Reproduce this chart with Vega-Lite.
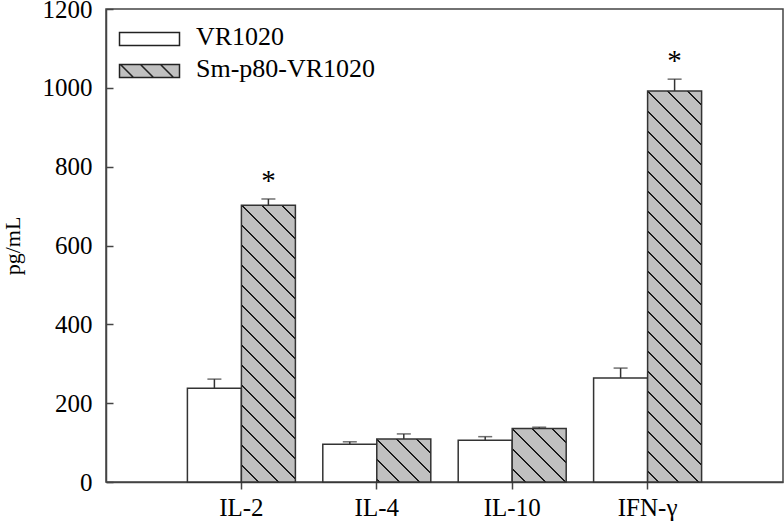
{
 "$schema": "https://vega.github.io/schema/vega-lite/v6.json",
 "width": 677,
 "height": 473,
 "autosize": {"type": "none"},
 "padding": {"left": 106, "top": 9, "right": 1, "bottom": 40},
 "background": "#ffffff",
 "config": {
  "view": {"stroke": "#444", "strokeWidth": 1.5},
  "font": "Liberation Serif",
  "axis": {"labelFont": "Liberation Serif", "titleFont": "Liberation Serif", "labelColor": "#000", "titleColor": "#000", "domainColor": "#444", "domainWidth": 1.5, "tickColor": "#444", "tickWidth": 1.5, "grid": false}
 },
 "data": {"values": [
  {"cytokine": "IL-2", "group": "VR1020", "value": 238, "upper": 261, "star": ""},
  {"cytokine": "IL-2", "group": "Sm-p80-VR1020", "value": 702, "upper": 718, "star": "*"},
  {"cytokine": "IL-4", "group": "VR1020", "value": 96, "upper": 102, "star": ""},
  {"cytokine": "IL-4", "group": "Sm-p80-VR1020", "value": 109, "upper": 122, "star": ""},
  {"cytokine": "IL-10", "group": "VR1020", "value": 106, "upper": 115, "star": ""},
  {"cytokine": "IL-10", "group": "Sm-p80-VR1020", "value": 136, "upper": 139, "star": ""},
  {"cytokine": "IFN-γ", "group": "VR1020", "value": 264, "upper": 289, "star": ""},
  {"cytokine": "IFN-γ", "group": "Sm-p80-VR1020", "value": 992, "upper": 1022, "star": "*"}
 ]},
 "encoding": {
  "x": {"field": "cytokine", "type": "nominal", "sort": ["IL-2", "IL-4", "IL-10", "IFN-γ"],
        "scale": {"domain": ["IL-2", "IL-4", "IL-10", "IFN-γ"], "paddingInner": 0, "paddingOuter": 0.5, "round": false},
        "axis": {"title": null, "labelAngle": 0, "labelFont": "Liberation Serif", "labelFontSize": 25, "tickSize": 7, "labelPadding": 6}},
  "xOffset": {"field": "group", "type": "nominal", "scale": {"domain": ["VR1020", "Sm-p80-VR1020"], "paddingInner": 0, "paddingOuter": 0.2537, "round": false}},
  "y": {"field": "value", "type": "quantitative", "title": "pg/mL",
        "scale": {"domain": [0, 1200], "nice": false, "zero": true},
        "axis": {"values": [0, 200, 400, 600, 800, 1000, 1200], "format": "d", "tickSize": -7, "labelPadding": 21, "labelFont": "Liberation Serif", "labelFontSize": 25, "titleFont": "Liberation Serif", "titleFontSize": 22, "titleFontWeight": "normal", "titlePadding": 18}}
 },
 "layer": [
  {
   "transform": [{"filter": "datum.group === 'VR1020'"}],
   "mark": {"type": "bar", "fill": "#ffffff", "stroke": "#333", "strokeWidth": 1.5}
  },
  {
   "transform": [{"filter": "datum.group !== 'VR1020' && datum.cytokine === 'IL-2'"}],
   "mark": {"type": "bar", "stroke": "#333", "strokeWidth": 1.5,
    "fill": {"gradient": "linear", "x1": 0, "y1": 1, "x2": 0.2247, "y2": -0.1513, "stops": [
     {"offset": 0, "color": "#c0c0c0"},
     {"offset": 0.04747, "color": "#c0c0c0"}, {"offset": 0.04747, "color": "#1a1a1a"}, {"offset": 0.05352, "color": "#1a1a1a"}, {"offset": 0.05352, "color": "#c0c0c0"},
     {"offset": 0.10795, "color": "#c0c0c0"}, {"offset": 0.10795, "color": "#1a1a1a"}, {"offset": 0.11400, "color": "#1a1a1a"}, {"offset": 0.11400, "color": "#c0c0c0"},
     {"offset": 0.16843, "color": "#c0c0c0"}, {"offset": 0.16843, "color": "#1a1a1a"}, {"offset": 0.17448, "color": "#1a1a1a"}, {"offset": 0.17448, "color": "#c0c0c0"},
     {"offset": 0.22891, "color": "#c0c0c0"}, {"offset": 0.22891, "color": "#1a1a1a"}, {"offset": 0.23496, "color": "#1a1a1a"}, {"offset": 0.23496, "color": "#c0c0c0"},
     {"offset": 0.28939, "color": "#c0c0c0"}, {"offset": 0.28939, "color": "#1a1a1a"}, {"offset": 0.29544, "color": "#1a1a1a"}, {"offset": 0.29544, "color": "#c0c0c0"},
     {"offset": 0.34986, "color": "#c0c0c0"}, {"offset": 0.34986, "color": "#1a1a1a"}, {"offset": 0.35591, "color": "#1a1a1a"}, {"offset": 0.35591, "color": "#c0c0c0"},
     {"offset": 0.41034, "color": "#c0c0c0"}, {"offset": 0.41034, "color": "#1a1a1a"}, {"offset": 0.41639, "color": "#1a1a1a"}, {"offset": 0.41639, "color": "#c0c0c0"},
     {"offset": 0.47082, "color": "#c0c0c0"}, {"offset": 0.47082, "color": "#1a1a1a"}, {"offset": 0.47687, "color": "#1a1a1a"}, {"offset": 0.47687, "color": "#c0c0c0"},
     {"offset": 0.53130, "color": "#c0c0c0"}, {"offset": 0.53130, "color": "#1a1a1a"}, {"offset": 0.53735, "color": "#1a1a1a"}, {"offset": 0.53735, "color": "#c0c0c0"},
     {"offset": 0.59178, "color": "#c0c0c0"}, {"offset": 0.59178, "color": "#1a1a1a"}, {"offset": 0.59782, "color": "#1a1a1a"}, {"offset": 0.59782, "color": "#c0c0c0"},
     {"offset": 0.65225, "color": "#c0c0c0"}, {"offset": 0.65225, "color": "#1a1a1a"}, {"offset": 0.65830, "color": "#1a1a1a"}, {"offset": 0.65830, "color": "#c0c0c0"},
     {"offset": 0.71273, "color": "#c0c0c0"}, {"offset": 0.71273, "color": "#1a1a1a"}, {"offset": 0.71878, "color": "#1a1a1a"}, {"offset": 0.71878, "color": "#c0c0c0"},
     {"offset": 0.77321, "color": "#c0c0c0"}, {"offset": 0.77321, "color": "#1a1a1a"}, {"offset": 0.77926, "color": "#1a1a1a"}, {"offset": 0.77926, "color": "#c0c0c0"},
     {"offset": 0.83369, "color": "#c0c0c0"}, {"offset": 0.83369, "color": "#1a1a1a"}, {"offset": 0.83973, "color": "#1a1a1a"}, {"offset": 0.83973, "color": "#c0c0c0"},
     {"offset": 0.89416, "color": "#c0c0c0"}, {"offset": 0.89416, "color": "#1a1a1a"}, {"offset": 0.90021, "color": "#1a1a1a"}, {"offset": 0.90021, "color": "#c0c0c0"},
     {"offset": 0.95464, "color": "#c0c0c0"}, {"offset": 0.95464, "color": "#1a1a1a"}, {"offset": 0.96069, "color": "#1a1a1a"}, {"offset": 0.96069, "color": "#c0c0c0"},
     {"offset": 1, "color": "#c0c0c0"}
    ]}}
  },
  {
   "transform": [{"filter": "datum.group !== 'VR1020' && datum.cytokine === 'IL-4'"}],
   "mark": {"type": "bar", "stroke": "#333", "strokeWidth": 1.5,
    "fill": {"gradient": "linear", "x1": 0, "y1": 1, "x2": 1.0996, "y2": 0.1252, "stops": [
     {"offset": 0, "color": "#c0c0c0"},
     {"offset": 0.02021, "color": "#c0c0c0"}, {"offset": 0.02021, "color": "#1a1a1a"}, {"offset": 0.04084, "color": "#1a1a1a"}, {"offset": 0.04084, "color": "#c0c0c0"},
     {"offset": 0.22649, "color": "#c0c0c0"}, {"offset": 0.22649, "color": "#1a1a1a"}, {"offset": 0.24711, "color": "#1a1a1a"}, {"offset": 0.24711, "color": "#c0c0c0"},
     {"offset": 0.43276, "color": "#c0c0c0"}, {"offset": 0.43276, "color": "#1a1a1a"}, {"offset": 0.45338, "color": "#1a1a1a"}, {"offset": 0.45338, "color": "#c0c0c0"},
     {"offset": 0.63903, "color": "#c0c0c0"}, {"offset": 0.63903, "color": "#1a1a1a"}, {"offset": 0.65965, "color": "#1a1a1a"}, {"offset": 0.65965, "color": "#c0c0c0"},
     {"offset": 0.84530, "color": "#c0c0c0"}, {"offset": 0.84530, "color": "#1a1a1a"}, {"offset": 0.86592, "color": "#1a1a1a"}, {"offset": 0.86592, "color": "#c0c0c0"},
     {"offset": 1, "color": "#c0c0c0"}
    ]}}
  },
  {
   "transform": [{"filter": "datum.group !== 'VR1020' && datum.cytokine === 'IL-10'"}],
   "mark": {"type": "bar", "stroke": "#333", "strokeWidth": 1.5,
    "fill": {"gradient": "linear", "x1": 0, "y1": 1, "x2": 1.0037, "y2": 0.0037, "stops": [
     {"offset": 0, "color": "#c0c0c0"},
     {"offset": 0.11710, "color": "#c0c0c0"}, {"offset": 0.11710, "color": "#1a1a1a"}, {"offset": 0.13569, "color": "#1a1a1a"}, {"offset": 0.13569, "color": "#c0c0c0"},
     {"offset": 0.30297, "color": "#c0c0c0"}, {"offset": 0.30297, "color": "#1a1a1a"}, {"offset": 0.32156, "color": "#1a1a1a"}, {"offset": 0.32156, "color": "#c0c0c0"},
     {"offset": 0.48885, "color": "#c0c0c0"}, {"offset": 0.48885, "color": "#1a1a1a"}, {"offset": 0.50743, "color": "#1a1a1a"}, {"offset": 0.50743, "color": "#c0c0c0"},
     {"offset": 0.67472, "color": "#c0c0c0"}, {"offset": 0.67472, "color": "#1a1a1a"}, {"offset": 0.69331, "color": "#1a1a1a"}, {"offset": 0.69331, "color": "#c0c0c0"},
     {"offset": 0.86059, "color": "#c0c0c0"}, {"offset": 0.86059, "color": "#1a1a1a"}, {"offset": 0.87918, "color": "#1a1a1a"}, {"offset": 0.87918, "color": "#c0c0c0"},
     {"offset": 1, "color": "#c0c0c0"}
    ]}}
  },
  {
   "transform": [{"filter": "datum.group !== 'VR1020' && datum.cytokine === 'IFN-γ'"}],
   "mark": {"type": "bar", "stroke": "#333", "strokeWidth": 1.5,
    "fill": {"gradient": "linear", "x1": 0, "y1": 1, "x2": 0.15424, "y2": -0.11681, "stops": [
     {"offset": 0, "color": "#c0c0c0"},
     {"offset": 0.02247, "color": "#c0c0c0"}, {"offset": 0.02247, "color": "#1a1a1a"}, {"offset": 0.02697, "color": "#1a1a1a"}, {"offset": 0.02697, "color": "#c0c0c0"},
     {"offset": 0.06742, "color": "#c0c0c0"}, {"offset": 0.06742, "color": "#1a1a1a"}, {"offset": 0.07191, "color": "#1a1a1a"}, {"offset": 0.07191, "color": "#c0c0c0"},
     {"offset": 0.11236, "color": "#c0c0c0"}, {"offset": 0.11236, "color": "#1a1a1a"}, {"offset": 0.11685, "color": "#1a1a1a"}, {"offset": 0.11685, "color": "#c0c0c0"},
     {"offset": 0.15730, "color": "#c0c0c0"}, {"offset": 0.15730, "color": "#1a1a1a"}, {"offset": 0.16180, "color": "#1a1a1a"}, {"offset": 0.16180, "color": "#c0c0c0"},
     {"offset": 0.20225, "color": "#c0c0c0"}, {"offset": 0.20225, "color": "#1a1a1a"}, {"offset": 0.20674, "color": "#1a1a1a"}, {"offset": 0.20674, "color": "#c0c0c0"},
     {"offset": 0.24719, "color": "#c0c0c0"}, {"offset": 0.24719, "color": "#1a1a1a"}, {"offset": 0.25169, "color": "#1a1a1a"}, {"offset": 0.25169, "color": "#c0c0c0"},
     {"offset": 0.29213, "color": "#c0c0c0"}, {"offset": 0.29213, "color": "#1a1a1a"}, {"offset": 0.29663, "color": "#1a1a1a"}, {"offset": 0.29663, "color": "#c0c0c0"},
     {"offset": 0.33708, "color": "#c0c0c0"}, {"offset": 0.33708, "color": "#1a1a1a"}, {"offset": 0.34157, "color": "#1a1a1a"}, {"offset": 0.34157, "color": "#c0c0c0"},
     {"offset": 0.38202, "color": "#c0c0c0"}, {"offset": 0.38202, "color": "#1a1a1a"}, {"offset": 0.38652, "color": "#1a1a1a"}, {"offset": 0.38652, "color": "#c0c0c0"},
     {"offset": 0.42697, "color": "#c0c0c0"}, {"offset": 0.42697, "color": "#1a1a1a"}, {"offset": 0.43146, "color": "#1a1a1a"}, {"offset": 0.43146, "color": "#c0c0c0"},
     {"offset": 0.47191, "color": "#c0c0c0"}, {"offset": 0.47191, "color": "#1a1a1a"}, {"offset": 0.47640, "color": "#1a1a1a"}, {"offset": 0.47640, "color": "#c0c0c0"},
     {"offset": 0.51685, "color": "#c0c0c0"}, {"offset": 0.51685, "color": "#1a1a1a"}, {"offset": 0.52135, "color": "#1a1a1a"}, {"offset": 0.52135, "color": "#c0c0c0"},
     {"offset": 0.56180, "color": "#c0c0c0"}, {"offset": 0.56180, "color": "#1a1a1a"}, {"offset": 0.56629, "color": "#1a1a1a"}, {"offset": 0.56629, "color": "#c0c0c0"},
     {"offset": 0.60674, "color": "#c0c0c0"}, {"offset": 0.60674, "color": "#1a1a1a"}, {"offset": 0.61124, "color": "#1a1a1a"}, {"offset": 0.61124, "color": "#c0c0c0"},
     {"offset": 0.65169, "color": "#c0c0c0"}, {"offset": 0.65169, "color": "#1a1a1a"}, {"offset": 0.65618, "color": "#1a1a1a"}, {"offset": 0.65618, "color": "#c0c0c0"},
     {"offset": 0.69663, "color": "#c0c0c0"}, {"offset": 0.69663, "color": "#1a1a1a"}, {"offset": 0.70112, "color": "#1a1a1a"}, {"offset": 0.70112, "color": "#c0c0c0"},
     {"offset": 0.74157, "color": "#c0c0c0"}, {"offset": 0.74157, "color": "#1a1a1a"}, {"offset": 0.74607, "color": "#1a1a1a"}, {"offset": 0.74607, "color": "#c0c0c0"},
     {"offset": 0.78652, "color": "#c0c0c0"}, {"offset": 0.78652, "color": "#1a1a1a"}, {"offset": 0.79101, "color": "#1a1a1a"}, {"offset": 0.79101, "color": "#c0c0c0"},
     {"offset": 0.83146, "color": "#c0c0c0"}, {"offset": 0.83146, "color": "#1a1a1a"}, {"offset": 0.83596, "color": "#1a1a1a"}, {"offset": 0.83596, "color": "#c0c0c0"},
     {"offset": 0.87640, "color": "#c0c0c0"}, {"offset": 0.87640, "color": "#1a1a1a"}, {"offset": 0.88090, "color": "#1a1a1a"}, {"offset": 0.88090, "color": "#c0c0c0"},
     {"offset": 0.92135, "color": "#c0c0c0"}, {"offset": 0.92135, "color": "#1a1a1a"}, {"offset": 0.92584, "color": "#1a1a1a"}, {"offset": 0.92584, "color": "#c0c0c0"},
     {"offset": 0.96629, "color": "#c0c0c0"}, {"offset": 0.96629, "color": "#1a1a1a"}, {"offset": 0.97079, "color": "#1a1a1a"}, {"offset": 0.97079, "color": "#c0c0c0"},
     {"offset": 1, "color": "#c0c0c0"}
    ]}}
  },
  {
   "mark": {"type": "rule", "color": "#333", "strokeWidth": 1.5},
   "encoding": {"y2": {"field": "upper"}}
  },
  {
   "mark": {"type": "tick", "color": "#333", "thickness": 1.5, "size": 14, "orient": "horizontal"},
   "encoding": {"y": {"field": "upper", "type": "quantitative", "title": "pg/mL"}}
  },
  {
   "mark": {"type": "text", "dy": -9, "fontSize": 29, "baseline": "alphabetic", "font": "Liberation Serif", "color": "#000"},
   "encoding": {"y": {"field": "upper", "type": "quantitative", "title": "pg/mL"}, "text": {"field": "star"}}
  },
  {
   "transform": [{"filter": "false"}],
   "mark": {"type": "point", "filled": false, "strokeWidth": 1.5, "opacity": 1},
   "encoding": {
    "fill": {"field": "group", "type": "nominal",
      "scale": {"domain": ["VR1020", "Sm-p80-VR1020"], "range": ["#ffffff", "#c0c0c0"]},
      "legend": {"title": null, "orient": "top-left", "offset": 15, "padding": 0, "symbolSize": 169, "symbolStrokeWidth": 1.5, "symbolOpacity": 1, "labelFont": "Liberation Serif", "labelFontSize": 26, "labelColor": "#000", "labelOffset": 49, "labelLimit": 400, "rowPadding": 6}},
    "stroke": {"field": "group", "type": "nominal",
      "scale": {"domain": ["VR1020", "Sm-p80-VR1020"], "range": ["#222222", "#222222"]},
      "legend": {"title": null, "orient": "top-left", "offset": 15, "padding": 0, "symbolSize": 169, "symbolStrokeWidth": 1.5, "symbolOpacity": 1, "labelFont": "Liberation Serif", "labelFontSize": 26, "labelColor": "#000", "labelOffset": 49, "labelLimit": 400, "rowPadding": 6}},
    "shape": {"field": "group", "type": "nominal",
      "scale": {"domain": ["VR1020", "Sm-p80-VR1020"], "range": ["M-2.23,-0.7H7V1.3H-2.23Z", "M-2.23,-0.7H7V1.3H-2.23ZM-2.08,-0.7L-0.08,1.3M1,-0.7L3,1.3M4.08,-0.7L6.08,1.3"]},
      "legend": {"title": null, "orient": "top-left", "offset": 15, "padding": 0, "symbolSize": 169, "symbolStrokeWidth": 1.5, "symbolOpacity": 1, "labelFont": "Liberation Serif", "labelFontSize": 26, "labelColor": "#000", "labelOffset": 49, "labelLimit": 400, "rowPadding": 6}}
   }
  }
 ]
}
